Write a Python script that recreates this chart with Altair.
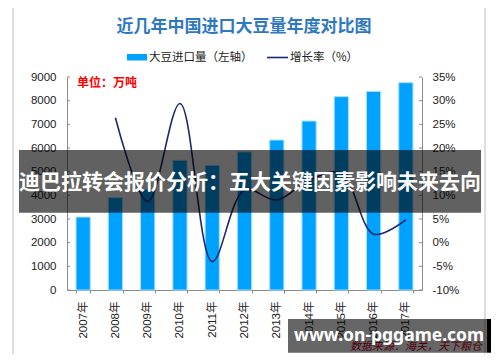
import altair as alt
import pandas as pd

# ---------------- data ----------------
years = ["2007年", "2008年", "2009年", "2010年", "2011年", "2012年",
         "2013年", "2014年", "2015年", "2016年", "2017年"]
imports = [3082, 3900, 4255, 5480, 5264, 5838, 6338, 7140, 8169, 8391, 8760]
growth_years = years[1:]
growth = [26.4, 8.7, 29.4, -4.0, 11.1, 9.0, 13.2, 14.7, 1.8, 4.8]
left_ticks = [0, 1000, 2000, 3000, 4000, 5000, 6000, 7000, 8000, 9000]
right_ticks = [-10, -5, 0, 5, 10, 15, 20, 25, 30, 35]

title_text = "近几年中国进口大豆量年度对比图"
legend_bar = "大豆进口量（左轴）"
legend_line = "增长率（%）"
unit_text = "单位：万吨"
banner_text = "迪巴拉转会报价分析：五大关键因素影响未来去向"
site_text = "www.on-pggame.com"
source_text = "数据来源：海关，天下粮仓"

df_bar = pd.DataFrame({"year": years, "imports": imports})
df_line = pd.DataFrame({"year": growth_years, "growth": growth})
df_lt = pd.DataFrame({"v": left_ticks})
df_rt = pd.DataFrame({"v": right_ticks})
one = pd.DataFrame({"k": [0]})

W, H = 355, 213
CJK = "Noto Sans CJK SC"
NUM = "Liberation Sans, Noto Sans CJK SC"
AX = "#8c8c8c"

xscale = alt.Scale(domain=years, paddingInner=0.56, paddingOuter=0.28)
lscale = alt.Scale(domain=[0, 9000], nice=False, zero=False)
rscale = alt.Scale(domain=[-10, 35], nice=False, zero=False)

xaxis = alt.Axis(title=None, labelAngle=270, tickBand="extent", tickSize=3,
                 tickColor=AX, domainColor=AX, labelPadding=8, zindex=0,
                 labelFont=NUM, labelFontSize=11.5, labelColor="#222",
                 labelOverlap=False)

# frame (outline only)
frame = alt.Chart(one).mark_rect(fillOpacity=0, stroke="#d4d4d4", strokeWidth=1.5).encode(
    x=alt.value(-54), x2=alt.value(418), y=alt.value(-75), y2=alt.value(283))

bars = alt.Chart(df_bar).mark_bar(color="#00A2FF", stroke="#A8DEFF", strokeWidth=1).encode(
    x=alt.X("year:N", scale=xscale, sort=years, axis=xaxis),
    y=alt.Y("imports:Q", scale=lscale,
            axis=alt.Axis(title=None, orient="left", values=left_ticks, ticks=False,
                          format="d", labelPadding=11, grid=False, domainColor=AX,
                          zindex=0, labelFont=NUM, labelFontSize=11.5,
                          labelColor="#222")),
)

lticks = alt.Chart(df_lt).mark_rule(color=AX).encode(
    y=alt.Y("v:Q", scale=lscale, axis=None), x=alt.value(0), x2=alt.value(3))

line = alt.Chart(df_line).mark_line(color="#1A2A6C", strokeWidth=1.6,
                                    interpolate="catmull-rom").encode(
    x=alt.X("year:N", scale=xscale, sort=years, axis=xaxis),
    y=alt.Y("growth:Q", scale=rscale,
            axis=alt.Axis(title=None, orient="right", values=right_ticks, ticks=False,
                          labelExpr="datum.value + '%'", labelPadding=10, grid=False,
                          domainColor=AX, zindex=0, labelFont=NUM, labelFontSize=11.5,
                          labelColor="#222")),
)

rticks = alt.Chart(df_rt).mark_rule(color=AX).encode(
    y=alt.Y("v:Q", scale=rscale, axis=None), x=alt.value(W - 3), x2=alt.value(W))

def txt(text, x, y, **kw):
    return alt.Chart(one).mark_text(text=text, **kw).encode(x=alt.value(x), y=alt.value(y))

title = txt(title_text, 177, -50, font=CJK, fontSize=17, fontWeight="bold",
            color="#2E78C2", align="center", baseline="middle")
leg_rect = alt.Chart(one).mark_rect(color="#00A2FF").encode(
    x=alt.value(60), x2=alt.value(80), y=alt.value(-23), y2=alt.value(-16.5))
leg_t1 = txt(legend_bar, 82, -19.5, font=CJK, fontSize=11.5, color="#222",
             align="left", baseline="middle")
leg_line = alt.Chart(one).mark_rule(color="#1A2A6C", strokeWidth=1.6).encode(
    x=alt.value(200), x2=alt.value(221), y=alt.value(-19.5))
leg_t2 = txt(legend_line, 223, -19.5, font=CJK, fontSize=11.5, color="#222",
             align="left", baseline="middle")
unit = txt(unit_text, 10, 6, font=CJK, fontSize=12, fontWeight="bold", color="#FF0000",
           align="left", baseline="middle")

banner = alt.Chart(one).mark_rect(color="black", opacity=0.62).encode(
    x=alt.value(-48), x2=alt.value(414), y=alt.value(73), y2=alt.value(135.7))
banner_t = txt(banner_text, 183, 106, font=CJK, fontSize=21, fontWeight="bold",
               color="white", align="center", baseline="middle")

source = txt(source_text, 283, 270, font=CJK, fontSize=11, fontStyle="italic",
             color="#C00018", align="left", baseline="middle")
box = alt.Chart(one).mark_rect(color="black", opacity=0.6).encode(
    x=alt.value(221), x2=alt.value(420), y=alt.value(242), y2=alt.value(275.7))
strip = alt.Chart(one).mark_rect(color="black").encode(
    x=alt.value(420), x2=alt.value(424), y=alt.value(242), y2=alt.value(275.7))
site = txt(site_text, 322, 259, font="Noto Sans, DejaVu Sans", fontSize=17.5,
           fontWeight="bold", color="white", align="center", baseline="middle")

chart = alt.layer(
    frame, bars, lticks, line, rticks, title, leg_rect, leg_t1, leg_line, leg_t2, unit,
    banner, banner_t, source, box, strip, site
).resolve_scale(y="independent").properties(
    width=W, height=H,
    padding={"left": 59, "top": 69, "right": 70, "bottom": 64},
    autosize=alt.AutoSizeParams(type="none"),
    background="white",
).configure_view(stroke=None)

chart.save("out.html", embed_options={"renderer": "svg", "actions": False})
